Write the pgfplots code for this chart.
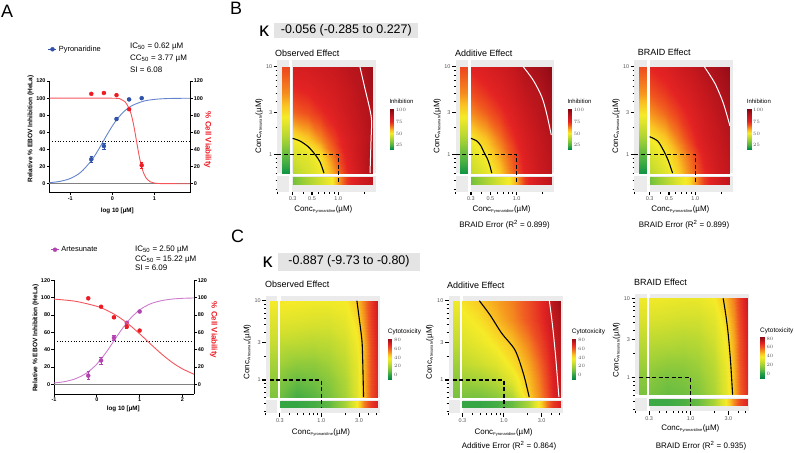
\documentclass[border=0pt]{standalone}
\usepackage{pgfplots}
\pgfplotsset{compat=1.18}
\usepackage{fontspec}
\setmainfont{Liberation Sans}

\definecolor{pblue}{RGB}{48,82,168}
\definecolor{pbluel}{RGB}{100,132,205}
\definecolor{cred}{RGB}{237,28,36}
\definecolor{credl}{RGB}{245,85,90}
\definecolor{amag}{RGB}{178,68,178}
\definecolor{amagl}{RGB}{205,125,205}
\definecolor{bggray}{RGB}{235,235,235}
\definecolor{kboxgray}{RGB}{228,228,228}
\definecolor{tickgray}{RGB}{85,85,85}

\pgfplotsset{
  colormap={braidB}{rgb255(0pt)=(0,140,70) rgb255(9pt)=(80,180,65) rgb255(19pt)=(150,205,55) rgb255(29pt)=(215,225,45) rgb255(34pt)=(245,235,40) rgb255(40pt)=(250,195,35) rgb255(46pt)=(245,140,30) rgb255(52pt)=(240,85,30) rgb255(59pt)=(228,35,35) rgb255(69pt)=(200,25,30) rgb255(79pt)=(160,15,25) rgb255(88pt)=(110,5,15)},
  colormap={braidC}{rgb255(0pt)=(0,130,65) rgb255(11pt)=(40,160,70) rgb255(21pt)=(110,190,65) rgb255(31pt)=(165,210,55) rgb255(41pt)=(215,225,45) rgb255(49pt)=(245,235,40) rgb255(56pt)=(250,200,35) rgb255(63pt)=(245,150,30) rgb255(71pt)=(240,90,35) rgb255(81pt)=(225,35,35) rgb255(95pt)=(140,10,20)},
  heatbase/.style={
    scale only axis, view={0}{90}, hide z axis,
    axis line style={draw=none},
    tick align=outside, xtick pos=left, ytick pos=left,
    major tick length=3.5bp, minor tick length=1.8bp,
    every major tick/.append style={black, line width=1.1bp},
    every minor tick/.append style={black, line width=0.9bp},
    tick label style={font=\fontsize{5.5}{6}\selectfont, text=tickgray, inner sep=1.5bp},
    ytick={0,0.47712,1}, yticklabels={1,3,10},
    minor ytick={-0.39794,-0.30103,-0.22185,-0.15490,-0.09691,-0.04576,0.30103,0.60206,0.69897,0.77815,0.84510,0.90309,0.95424},
    clip=false, anchor=south west,
  },
  heatB/.style={heatbase, colormap name=braidB, point meta min=16, point meta max=104,
    width=98.6bp, height=131.9bp, xmin=-0.69897, xmax=0.43136, ymin=-0.42713, ymax=1.07918,
    xtick={-0.52288,-0.30103,0}, xticklabels={0.3,0.5,1.0},
    minor xtick={-0.69897,-0.39794,-0.22185,-0.15490,-0.09691,-0.04576,0.30103}},
  heatC/.style={heatbase, colormap name=braidC, point meta min=-11, point meta max=84,
    width=114bp, height=117.4bp, xmin=-0.69897, xmax=0.74036, ymin=-0.42022, ymax=1.06070,
    xtick={-0.52288,0,0.47712}, xticklabels={0.3,1.0,3.0},
    minor xtick={-0.69897,-0.39794,-0.30103,-0.22185,-0.15490,-0.09691,-0.04576,0.30103,0.60206,0.69897}},
  cbarbase/.style={scale only axis, view={0}{90}, anchor=north west, width=4.8bp,
    hide x axis, hide z axis, axis line style={draw=none}, major tick length=0pt,
    yticklabel pos=right, xmin=0, xmax=1,
    yticklabel style={font=\fontsize{5.5}{6}\selectfont, text=tickgray, inner sep=1.5bp}},
  cbarB/.style={cbarbase, height=41bp, ymin=16, ymax=104, ytick={25,50,75,100},
    colormap name=braidB, point meta min=16, point meta max=104},
  cbarC/.style={cbarbase, height=41.7bp, ymin=-11, ymax=84, ytick={0,20,40,60,80},
    colormap name=braidC, point meta min=-11, point meta max=84},
  apanel/.style={scale only axis, anchor=south west,
    axis line style={line width=0.8bp},
    tick align=outside, major tick length=2.5bp,
    every tick/.style={black, line width=0.8bp},
    tick label style={font=\bfseries\fontsize{5.5}{6}\selectfont, inner sep=1.2bp},
    /pgf/number format/assume math mode=true,
    ytick={0,20,40,60,80,100,120}, clip=false},
  contk/.style={black, line width=1.1bp, smooth, no marks},
  contw/.style={white, line width=1bp, smooth, no marks},
  dashk/.style={black, line width=1.4bp, dash pattern=on 4bp off 2.5bp, no marks},
}

\begin{document}
\begin{tikzpicture}
\useasboundingbox (0,0) rectangle (795bp,-453bp);

% ================= Panel labels =================
\node[anchor=west, inner sep=0, font=\fontsize{18}{18}\selectfont] at (1bp,-11.7bp) {A};
\node[anchor=west, inner sep=0, font=\fontsize{18}{18}\selectfont] at (230bp,-8.3bp) {B};
\node[anchor=west, inner sep=0, font=\fontsize{18}{18}\selectfont] at (231bp,-236.7bp) {C};

% ================= Panel A top =================
\begin{axis}[apanel, at={(49.3bp,-192.7bp)}, width=140.7bp, height=111.7bp,
  xmin=-1.5, xmax=1.85, ymin=-10.5, ymax=120,
  axis x line*=bottom, axis y line*=left, xtick={-1,0,1},
  legend style={at={(axis description cs:-0.01,1.284)}, anchor=west, draw=none, fill=none, inner sep=0pt, font=\fontsize{7.5}{9}\selectfont},
  legend cell align=left]
\addplot[gray, line width=0.5bp, forget plot] coordinates {(-1.5,0) (1.85,0)};
\addplot[black, dotted, line width=0.8bp, forget plot] coordinates {(-1.5,50) (1.85,50)};
\addplot[pbluel, line width=0.9bp, smooth, forget plot] coordinates {(-1.5,1.2) (-1.25,2.7) (-1,6.1) (-0.75,13.4) (-0.5,26.9) (-0.375,36.1) (-0.25,46.5) (-0.125,57.3) (0,67.4) (0.125,76.1) (0.25,83) (0.375,88.3) (0.5,92) (0.75,96.5) (1,98.5) (1.25,99.4) (1.5,99.7) (1.85,99.9)};
\addplot[only marks, mark=*, mark size=2bp, pblue,
  legend image code/.code={\draw[pblue, line width=0.8bp] (0bp,0bp) -- (8bp,0bp); \fill[pblue] (4bp,0bp) circle (2bp);},
  error bars/.cd, y dir=both, y explicit, error bar style={line width=0.6bp}, error mark options={rotate=90, mark size=1.6bp, line width=0.6bp}]
  coordinates {(-0.5,28.5) +- (0,4) (-0.2,44) +- (0,3.5) (0.1,75.6) +- (0,2) (0.4,98.5) +- (0,1) (0.7,100) +- (0,1)};
\addlegendentry{Pyronaridine}
\end{axis}
\begin{axis}[apanel, at={(49.3bp,-192.7bp)}, width=140.7bp, height=111.7bp,
  xmin=-1.5, xmax=1.85, ymin=-10.5, ymax=120,
  axis x line=none, axis y line*=right]
\addplot[credl, line width=0.9bp, smooth] coordinates {(-1.5,100) (0,99.9) (0.2,98.7) (0.3,96) (0.4,88) (0.45,81) (0.5,70.6) (0.55,57.4) (0.6,43.1) (0.65,29.9) (0.7,19.3) (0.75,11.9) (0.8,7) (0.9,2.3) (1,0.75) (1.2,0.1) (1.85,0)};
\addplot[only marks, mark=*, mark size=2bp, cred,
  error bars/.cd, y dir=both, y explicit, error bar style={line width=0.6bp}, error mark options={rotate=90, mark size=1.6bp, line width=0.6bp}]
  coordinates {(-0.5,105) +- (0,0.5) (-0.2,106) +- (0,0.5) (0.1,103.5) +- (0,0.5) (0.4,87) +- (0,1) (0.7,21.5) +- (0,3)};
\end{axis}
\node[anchor=base west, inner sep=0, font=\fontsize{8}{9}\selectfont] at (130bp,-48.3bp) {IC\textsubscript{50} = 0.62 µM};
\node[anchor=base west, inner sep=0, font=\fontsize{8}{9}\selectfont] at (130bp,-60.3bp) {CC\textsubscript{50} = 3.77 µM};
\node[anchor=base west, inner sep=0, font=\fontsize{8}{9}\selectfont] at (130bp,-72bp) {SI = 6.08};
\node[rotate=90, anchor=base, inner sep=0, font=\bfseries\fontsize{6.6}{7}\selectfont] at (32.3bp,-129bp) {Relative \% EBOV Inhibition (HeLa)};
\node[rotate=-90, anchor=base, inner sep=0, text=cred, font=\bfseries\fontsize{8}{9}\selectfont] at (205.7bp,-140bp) {\% Cell Viability};
\node[anchor=base, inner sep=0, font=\bfseries\fontsize{6.3}{7}\selectfont] at (117.3bp,-212bp) {log 10 [µM]};

% ================= Panel A bottom =================
\begin{axis}[apanel, at={(54bp,-394bp)}, width=140bp, height=113.7bp,
  xmin=-1, xmax=2.27, ymin=-11.2, ymax=120,
  axis x line*=bottom, axis y line*=left, xtick={-1,0,1,2},
  legend style={at={(axis description cs:-0.026,1.269)}, anchor=west, draw=none, fill=none, inner sep=0pt, font=\fontsize{7.5}{9}\selectfont},
  legend cell align=left]
\addplot[gray, line width=0.5bp, forget plot] coordinates {(-1,0) (2.27,0)};
\addplot[black, dotted, line width=0.8bp, forget plot] coordinates {(-1,50) (2.27,50)};
\addplot[amagl, line width=0.9bp, smooth, forget plot] coordinates {(-1,1.5) (-0.75,3.1) (-0.5,6.4) (-0.25,12.6) (0,23.3) (0.25,39.1) (0.5,57.6) (0.75,74.1) (1,85.8) (1.25,92.8) (1.5,96.4) (1.75,98.3) (2,99.2) (2.27,99.6)};
\addplot[only marks, mark=*, mark size=2bp, amag,
  legend image code/.code={\draw[amag, line width=0.8bp] (0bp,0bp) -- (8bp,0bp); \fill[amag] (4bp,0bp) circle (2bp);},
  error bars/.cd, y dir=both, y explicit, error bar style={line width=0.6bp}, error mark options={rotate=90, mark size=1.6bp, line width=0.6bp}]
  coordinates {(-0.2,10) +- (0,4.5) (0.1,27.5) +- (0,4) (0.4,53.5) +- (0,3) (0.7,71) +- (0,2) (1.0,84) +- (0,1)};
\addlegendentry{Artesunate}
\end{axis}
\begin{axis}[apanel, at={(54bp,-394bp)}, width=140bp, height=113.7bp,
  xmin=-1, xmax=2.27, ymin=-11.2, ymax=120,
  axis x line=none, axis y line*=right]
\addplot[credl, line width=0.9bp, smooth] coordinates {(-1,98.3) (-0.5,95.8) (0,90) (0.25,85) (0.5,78.1) (0.75,69) (1,58.3) (1.25,46.7) (1.5,35.5) (1.75,25.6) (2,17.8) (2.27,11.6)};
\addplot[only marks, mark=*, mark size=2bp, cred,
  error bars/.cd, y dir=both, y explicit, error bar style={line width=0.6bp}, error mark options={rotate=90, mark size=1.6bp, line width=0.6bp}]
  coordinates {(-0.2,99.2) +- (0,0.5) (0.1,89.5) +- (0,0.5) (0.4,77.3) +- (0,1) (0.7,66.5) +- (0,1.5) (1.0,62) +- (0,0.5)};
\end{axis}
\node[anchor=base west, inner sep=0, font=\fontsize{8}{9}\selectfont] at (135bp,-251bp) {IC\textsubscript{50} = 2.50 µM};
\node[anchor=base west, inner sep=0, font=\fontsize{8}{9}\selectfont] at (135bp,-261bp) {CC\textsubscript{50} = 15.22 µM};
\node[anchor=base west, inner sep=0, font=\fontsize{8}{9}\selectfont] at (135bp,-270.7bp) {SI = 6.09};
\node[rotate=90, anchor=base, inner sep=0, font=\bfseries\fontsize{6.6}{7}\selectfont] at (37.3bp,-338.3bp) {Relative \% EBOV Inhibition (HeLa)};
\node[rotate=-90, anchor=base, inner sep=0, text=cred, font=\bfseries\fontsize{8}{9}\selectfont] at (211.7bp,-330bp) {\% Cell Viability};
\node[anchor=base, inner sep=0, font=\bfseries\fontsize{6.3}{7}\selectfont] at (123.3bp,-410bp) {log 10 [µM]};

% ================= Panel B header =================
\node[inner sep=0, font=\fontsize{20}{20}\selectfont] at (264bp,-31bp) {κ};
\fill[kboxgray] (274.3bp,-22.7bp) rectangle (418.3bp,-38.3bp);
\node[inner sep=0, font=\fontsize{12.5}{14}\selectfont] at (346.3bp,-30.5bp) {-0.056 (-0.285 to 0.227)};

% ---- B observed ----
\node[anchor=base west, inner sep=0, font=\fontsize{9}{10}\selectfont] at (275bp,-56.7bp) {Observed Effect};
\fill[bggray] (277.3bp,-59.8bp) rectangle (375.9bp,-191.7bp);
\begin{axis}[heatB, at={(277.3bp,-191.7bp)}]
\draw[white, line width=3bp] (axis cs:-0.542,-0.42713,0) -- (axis cs:-0.542,1.07918,0);
\draw[white, line width=3bp] (axis cs:-0.69897,-0.231,0) -- (axis cs:0.43136,-0.231,0);
\addplot3[surf, shader=interp, mesh/cols=7] table[row sep=\\] {
x y z\\
-0.523 -0.215 40\\ -0.347 -0.215 44.5\\ -0.204 -0.215 48.5\\ -0.046 -0.215 60\\ 0.097 -0.215 74\\ 0.255 -0.215 85\\ 0.398 -0.215 93\\
-0.523 0 45\\ -0.347 0 47.5\\ -0.204 0 52\\ -0.046 0 66\\ 0.097 0 77\\ 0.255 0 86\\ 0.398 0 92\\
-0.523 0.176 50\\ -0.347 0.176 55\\ -0.204 0.176 62\\ -0.046 0.176 71\\ 0.097 0.176 79\\ 0.255 0.176 86\\ 0.398 0.176 91\\
-0.523 0.477 66\\ -0.347 0.477 69\\ -0.204 0.477 73\\ -0.046 0.477 78\\ 0.097 0.477 83\\ 0.255 0.477 88\\ 0.398 0.477 91\\
-0.523 0.699 73\\ -0.347 0.699 75\\ -0.204 0.699 78\\ -0.046 0.699 81\\ 0.097 0.699 85\\ 0.255 0.699 89\\ 0.398 0.699 94\\
-0.523 1 80\\ -0.347 1 81\\ -0.204 1 83\\ -0.046 1 85\\ 0.097 1 88\\ 0.255 1 90\\ 0.398 1 96\\
};
\addplot3[surf, shader=interp, mesh/cols=2] table[row sep=\\] {
x y z\\
-0.648 -0.215 18\\ -0.561 -0.215 18\\ -0.648 0 28\\ -0.561 0 28\\ -0.648 0.204 40\\ -0.561 0.204 40\\
-0.648 0.477 52\\ -0.561 0.477 52\\ -0.648 0.699 62\\ -0.561 0.699 62\\ -0.648 1 70\\ -0.561 1 70\\
};
\addplot3[surf, shader=interp, mesh/cols=8] table[row sep=\\] {
x y z\\
-0.523 -0.342 30\\ -0.347 -0.342 38\\ -0.204 -0.342 44\\ -0.076 -0.342 50\\ 0 -0.342 60\\ 0.097 -0.342 72\\ 0.255 -0.342 82\\ 0.398 -0.342 88\\
-0.523 -0.256 30\\ -0.347 -0.256 38\\ -0.204 -0.256 44\\ -0.076 -0.256 50\\ 0 -0.256 60\\ 0.097 -0.256 72\\ 0.255 -0.256 82\\ 0.398 -0.256 88\\
};
\addplot3[contk] coordinates {(-0.523,0.182,120) (-0.439,0.152,120) (-0.344,0.086,120) (-0.268,0,120) (-0.210,-0.086,120) (-0.164,-0.215,120)};
\addplot3[contw] coordinates {(0.248,1,120) (0.305,0.754,120) (0.364,0.505,120) (0.382,0.373,120) (0.375,0.143,120) (0.364,-0.215,120)};
\addplot3[dashk] coordinates {(-0.69897,0,120) (0,0,120) (0,-0.342,120)};
\end{axis}
\begin{axis}[cbarB, at={(389.3bp,-108.3bp)}]
\addplot3[surf, shader=interp, mesh/cols=2] coordinates {(0,16,16) (1,16,16) (0,104,104) (1,104,104)};
\end{axis}
\node[anchor=base west, inner sep=0, font=\fontsize{6}{7}\selectfont] at (389.3bp,-103.5bp) {Inhibition};
\node[rotate=90, anchor=base, inner sep=0, font=\fontsize{8}{9}\selectfont] at (261bp,-126bp) {Conc\textsubscript{\fontsize{4}{4}\selectfont Artesunate}(µM)};
\node[anchor=base, inner sep=0, font=\fontsize{8}{9}\selectfont] at (323.3bp,-211.7bp) {Conc\textsubscript{\fontsize{4}{4}\selectfont Pyronaridine}(µM)};

% ---- B additive ----
\node[anchor=base west, inner sep=0, font=\fontsize{9}{10}\selectfont] at (455bp,-56.5bp) {Additive Effect};
\fill[bggray] (455.6bp,-59.8bp) rectangle (554.2bp,-191.7bp);
\begin{axis}[heatB, at={(455.6bp,-191.7bp)}]
\draw[white, line width=3bp] (axis cs:-0.542,-0.42713,0) -- (axis cs:-0.542,1.07918,0);
\draw[white, line width=3bp] (axis cs:-0.69897,-0.231,0) -- (axis cs:0.43136,-0.231,0);
\addplot3[surf, shader=interp, mesh/cols=7] table[row sep=\\] {
x y z\\
-0.523 -0.215 42\\ -0.347 -0.215 47\\ -0.204 -0.215 54\\ -0.046 -0.215 66\\ 0.097 -0.215 76\\ 0.255 -0.215 84\\ 0.398 -0.215 88\\
-0.523 0 46\\ -0.347 0 51\\ -0.204 0 59\\ -0.046 0 69\\ 0.097 0 78\\ 0.255 0 85\\ 0.398 0 89\\
-0.523 0.176 50\\ -0.347 0.176 56\\ -0.204 0.176 64\\ -0.046 0.176 73\\ 0.097 0.176 80\\ 0.255 0.176 86\\ 0.398 0.176 90\\
-0.523 0.477 62\\ -0.347 0.477 67\\ -0.204 0.477 72\\ -0.046 0.477 78\\ 0.097 0.477 84\\ 0.255 0.477 88.5\\ 0.398 0.477 92.5\\
-0.523 0.699 69\\ -0.347 0.699 73\\ -0.204 0.699 77\\ -0.046 0.699 82\\ 0.097 0.699 87\\ 0.255 0.699 89.8\\ 0.398 0.699 95\\
-0.523 1 76\\ -0.347 1 79\\ -0.204 1 82\\ -0.046 1 86\\ 0.097 1 90.5\\ 0.255 1 94\\ 0.398 1 98\\
};
\addplot3[surf, shader=interp, mesh/cols=2] table[row sep=\\] {
x y z\\
-0.648 -0.215 18\\ -0.561 -0.215 18\\ -0.648 0 28\\ -0.561 0 28\\ -0.648 0.204 40\\ -0.561 0.204 40\\
-0.648 0.477 52\\ -0.561 0.477 52\\ -0.648 0.699 62\\ -0.561 0.699 62\\ -0.648 1 70\\ -0.561 1 70\\
};
\addplot3[surf, shader=interp, mesh/cols=8] table[row sep=\\] {
x y z\\
-0.523 -0.342 30\\ -0.347 -0.342 38\\ -0.204 -0.342 45\\ -0.076 -0.342 51\\ 0 -0.342 60\\ 0.097 -0.342 72\\ 0.255 -0.342 82\\ 0.398 -0.342 88\\
-0.523 -0.256 30\\ -0.347 -0.256 38\\ -0.204 -0.256 45\\ -0.076 -0.256 51\\ 0 -0.256 60\\ 0.097 -0.256 72\\ 0.255 -0.256 82\\ 0.398 -0.256 88\\
};
\addplot3[contk] coordinates {(-0.523,0.182,120) (-0.456,0.152,120) (-0.409,0.097,120) (-0.377,0.029,120) (-0.337,-0.046,120) (-0.310,-0.119,120) (-0.284,-0.215,120)};
\addplot3[contw] coordinates {(0.076,1,120) (0.190,0.848,120) (0.288,0.658,120) (0.344,0.468,120) (0.398,0.220,120)};
\addplot3[dashk] coordinates {(-0.69897,0,120) (0,0,120) (0,-0.342,120)};
\end{axis}
\begin{axis}[cbarB, at={(567.3bp,-108.3bp)}]
\addplot3[surf, shader=interp, mesh/cols=2] coordinates {(0,16,16) (1,16,16) (0,104,104) (1,104,104)};
\end{axis}
\node[anchor=base west, inner sep=0, font=\fontsize{6}{7}\selectfont] at (567.3bp,-103.5bp) {Inhibition};
\node[rotate=90, anchor=base, inner sep=0, font=\fontsize{8}{9}\selectfont] at (439.3bp,-126bp) {Conc\textsubscript{\fontsize{4}{4}\selectfont Artesunate}(µM)};
\node[anchor=base, inner sep=0, font=\fontsize{8}{9}\selectfont] at (501.6bp,-211.7bp) {Conc\textsubscript{\fontsize{4}{4}\selectfont Pyronaridine}(µM)};
\node[anchor=base, inner sep=0, font=\fontsize{8}{9}\selectfont] at (504.5bp,-227bp) {BRAID Error (R\textsuperscript{2} = 0.899)};

% ---- B BRAID ----
\node[anchor=base west, inner sep=0, font=\fontsize{9}{10}\selectfont] at (637.7bp,-55.5bp) {BRAID Effect};
\fill[bggray] (634.3bp,-59.8bp) rectangle (732.9bp,-191.7bp);
\begin{axis}[heatB, at={(634.3bp,-191.7bp)}]
\draw[white, line width=3bp] (axis cs:-0.542,-0.42713,0) -- (axis cs:-0.542,1.07918,0);
\draw[white, line width=3bp] (axis cs:-0.69897,-0.231,0) -- (axis cs:0.43136,-0.231,0);
\addplot3[surf, shader=interp, mesh/cols=7] table[row sep=\\] {
x y z\\
-0.523 -0.215 41\\ -0.347 -0.215 46\\ -0.204 -0.215 53\\ -0.046 -0.215 64\\ 0.097 -0.215 74\\ 0.255 -0.215 83\\ 0.398 -0.215 87\\
-0.523 0 45\\ -0.347 0 50\\ -0.204 0 57\\ -0.046 0 67\\ 0.097 0 77\\ 0.255 0 84\\ 0.398 0 88.5\\
-0.523 0.176 49.5\\ -0.347 0.176 55\\ -0.204 0.176 63\\ -0.046 0.176 72\\ 0.097 0.176 80\\ 0.255 0.176 85.5\\ 0.398 0.176 89.5\\
-0.523 0.477 61\\ -0.347 0.477 66\\ -0.204 0.477 71\\ -0.046 0.477 77\\ 0.097 0.477 83\\ 0.255 0.477 88\\ 0.398 0.477 91.5\\
-0.523 0.699 68\\ -0.347 0.699 72\\ -0.204 0.699 76\\ -0.046 0.699 81\\ 0.097 0.699 86\\ 0.255 0.699 90\\ 0.398 0.699 94\\
-0.523 1 75\\ -0.347 1 78\\ -0.204 1 82\\ -0.046 1 86\\ 0.097 1 90\\ 0.255 1 93.5\\ 0.398 1 97.5\\
};
\addplot3[surf, shader=interp, mesh/cols=2] table[row sep=\\] {
x y z\\
-0.648 -0.215 18\\ -0.561 -0.215 18\\ -0.648 0 27\\ -0.561 0 27\\ -0.648 0.204 39\\ -0.561 0.204 39\\
-0.648 0.477 51\\ -0.561 0.477 51\\ -0.648 0.699 61\\ -0.561 0.699 61\\ -0.648 1 69\\ -0.561 1 69\\
};
\addplot3[surf, shader=interp, mesh/cols=8] table[row sep=\\] {
x y z\\
-0.523 -0.342 30\\ -0.347 -0.342 39\\ -0.204 -0.342 46\\ -0.076 -0.342 52\\ 0 -0.342 60\\ 0.097 -0.342 71\\ 0.255 -0.342 81\\ 0.398 -0.342 88\\
-0.523 -0.256 30\\ -0.347 -0.256 39\\ -0.204 -0.256 46\\ -0.076 -0.256 52\\ 0 -0.256 60\\ 0.097 -0.256 71\\ 0.255 -0.256 81\\ 0.398 -0.256 88\\
};
\addplot3[contk] coordinates {(-0.523,0.201,120) (-0.432,0.152,120) (-0.367,0.049,120) (-0.310,-0.071,120) (-0.260,-0.215,120)};
\addplot3[contw] coordinates {(0.104,1,120) (0.225,0.810,120) (0.322,0.582,120) (0.398,0.322,120)};
\addplot3[dashk] coordinates {(-0.69897,0,120) (0,0,120) (0,-0.342,120)};
\end{axis}
\begin{axis}[cbarB, at={(746.7bp,-108.3bp)}]
\addplot3[surf, shader=interp, mesh/cols=2] coordinates {(0,16,16) (1,16,16) (0,104,104) (1,104,104)};
\end{axis}
\node[anchor=base west, inner sep=0, font=\fontsize{6}{7}\selectfont] at (746.7bp,-103.5bp) {Inhibition};
\node[rotate=90, anchor=base, inner sep=0, font=\fontsize{8}{9}\selectfont] at (618bp,-126bp) {Conc\textsubscript{\fontsize{4}{4}\selectfont Artesunate}(µM)};
\node[anchor=base, inner sep=0, font=\fontsize{8}{9}\selectfont] at (680.3bp,-211.7bp) {Conc\textsubscript{\fontsize{4}{4}\selectfont Pyronaridine}(µM)};
\node[anchor=base, inner sep=0, font=\fontsize{8}{9}\selectfont] at (684bp,-227bp) {BRAID Error (R\textsuperscript{2} = 0.899)};

% ================= Panel C header =================
\node[inner sep=0, font=\fontsize{20}{20}\selectfont] at (267.5bp,-262.5bp) {κ};
\fill[kboxgray] (278.3bp,-252.7bp) rectangle (420bp,-270.7bp);
\node[inner sep=0, font=\fontsize{12.5}{14}\selectfont] at (349bp,-261.7bp) {-0.887 (-9.73 to -0.80)};

% ---- C observed ----
\node[anchor=base west, inner sep=0, font=\fontsize{9}{10}\selectfont] at (265bp,-287.7bp) {Observed Effect};
\fill[bggray] (265.9bp,-295.9bp) rectangle (379.9bp,-413.3bp);
\begin{axis}[heatC, at={(265.9bp,-413.3bp)}]
\draw[white, line width=3.5bp] (axis cs:-0.534,-0.42022,0) -- (axis cs:-0.534,1.06070,0);
\draw[white, line width=3.5bp] (axis cs:-0.69897,-0.234,0) -- (axis cs:0.74036,-0.234,0);
\addplot3[surf, shader=interp, mesh/cols=9] table[row sep=\\] {
x y z\\
-0.523 -0.215 10\\ -0.301 -0.215 4\\ -0.097 -0.215 7\\ 0.097 -0.215 12\\ 0.301 -0.215 20\\ 0.447 -0.215 32\\ 0.544 -0.215 46.5\\ 0.623 -0.215 62\\ 0.716 -0.215 70\\
-0.523 0 14\\ -0.301 0 9\\ -0.097 0 11\\ 0.097 0 15\\ 0.301 0 22\\ 0.447 0 33\\ 0.544 0 47.3\\ 0.623 0 62\\ 0.716 0 70\\
-0.523 0.204 19\\ -0.301 0.204 16\\ -0.097 0.204 16\\ 0.097 0.204 19\\ 0.301 0.204 25\\ 0.447 0.204 34\\ 0.544 0.204 47.5\\ 0.623 0.204 62\\ 0.716 0.204 71\\
-0.523 0.477 26\\ -0.301 0.477 25\\ -0.097 0.477 24\\ 0.097 0.477 25\\ 0.301 0.477 29\\ 0.447 0.477 37\\ 0.544 0.477 48\\ 0.623 0.477 63\\ 0.716 0.477 72\\
-0.523 0.740 33\\ -0.301 0.740 32\\ -0.097 0.740 31\\ 0.097 0.740 31\\ 0.301 0.740 34\\ 0.447 0.740 41\\ 0.544 0.740 52\\ 0.623 0.740 65\\ 0.716 0.740 73\\
-0.523 1 39\\ -0.301 1 38\\ -0.097 1 37\\ 0.097 1 37\\ 0.301 1 38\\ 0.447 1 45\\ 0.544 1 55\\ 0.623 1 66\\ 0.716 1 75\\
};
\addplot3[surf, shader=interp, mesh/cols=2] table[row sep=\\] {
x y z\\
-0.648 -0.215 13\\ -0.556 -0.215 13\\ -0.648 0 16\\ -0.556 0 16\\ -0.648 0.204 20\\ -0.556 0.204 20\\
-0.648 0.477 27\\ -0.556 0.477 27\\ -0.648 0.740 32\\ -0.556 0.740 32\\ -0.648 1 38\\ -0.556 1 38\\
};
\addplot3[surf, shader=interp, mesh/cols=9] table[row sep=\\] {
x y z\\
-0.523 -0.352 2\\ -0.301 -0.352 2\\ -0.097 -0.352 4\\ 0.097 -0.352 8\\ 0.301 -0.352 20\\ 0.447 -0.352 38\\ 0.544 -0.352 55\\ 0.623 -0.352 66\\ 0.716 -0.352 72\\
-0.523 -0.264 2\\ -0.301 -0.264 2\\ -0.097 -0.264 4\\ 0.097 -0.264 8\\ 0.301 -0.264 20\\ 0.447 -0.264 38\\ 0.544 -0.264 55\\ 0.623 -0.264 66\\ 0.716 -0.264 72\\
};
\addplot3[contk] coordinates {(0.450,1,120) (0.484,0.740,120) (0.513,0.505,120) (0.522,0.301,120) (0.534,-0.215,120)};
\addplot3[dashk] coordinates {(-0.648,0,120) (0,0,120) (0,-0.352,120)};
\end{axis}
\begin{axis}[cbarC, at={(387.7bp,-338.3bp)}]
\addplot3[surf, shader=interp, mesh/cols=2] coordinates {(0,-11,-11) (1,-11,-11) (0,84,84) (1,84,84)};
\end{axis}
\node[anchor=base west, inner sep=0, font=\fontsize{6.5}{7}\selectfont] at (387.7bp,-333.5bp) {Cytotoxicity};
\node[rotate=90, anchor=base, inner sep=0, font=\fontsize{8}{9}\selectfont] at (249.3bp,-352bp) {Conc\textsubscript{\fontsize{4}{4}\selectfont Artesunate}(µM)};
\node[anchor=base, inner sep=0, font=\fontsize{8}{9}\selectfont] at (321bp,-434bp) {Conc\textsubscript{\fontsize{4}{4}\selectfont Pyronaridine}(µM)};

% ---- C additive ----
\node[anchor=base west, inner sep=0, font=\fontsize{9}{10}\selectfont] at (447bp,-288bp) {Additive Effect};
\fill[bggray] (448.5bp,-295.9bp) rectangle (562.5bp,-413.3bp);
\begin{axis}[heatC, at={(448.5bp,-413.3bp)}]
\draw[white, line width=3.5bp] (axis cs:-0.534,-0.42022,0) -- (axis cs:-0.534,1.06070,0);
\draw[white, line width=3.5bp] (axis cs:-0.69897,-0.234,0) -- (axis cs:0.74036,-0.234,0);
\addplot3[surf, shader=interp, mesh/cols=9] table[row sep=\\] {
x y z\\
-0.523 -0.215 12\\ -0.301 -0.215 12\\ -0.097 -0.215 15\\ 0.097 -0.215 22\\ 0.301 -0.215 43\\ 0.447 -0.215 53\\ 0.544 -0.215 62\\ 0.623 -0.215 70\\ 0.716 -0.215 75\\
-0.523 0 18\\ -0.301 0 20\\ -0.097 0 24\\ 0.097 0 33\\ 0.301 0 46\\ 0.447 0 55\\ 0.544 0 64\\ 0.623 0 71\\ 0.716 0 75.5\\
-0.523 0.204 25\\ -0.301 0.204 28\\ -0.097 0.204 32\\ 0.097 0.204 40\\ 0.301 0.204 49\\ 0.447 0.204 58\\ 0.544 0.204 66\\ 0.623 0.204 72\\ 0.716 0.204 76\\
-0.523 0.477 31\\ -0.301 0.477 35\\ -0.097 0.477 40\\ 0.097 0.477 46\\ 0.301 0.477 55\\ 0.447 0.477 63\\ 0.544 0.477 69\\ 0.623 0.477 73.5\\ 0.716 0.477 77\\
-0.523 0.740 36\\ -0.301 0.740 40\\ -0.097 0.740 46.5\\ 0.097 0.740 53\\ 0.301 0.740 61\\ 0.447 0.740 67\\ 0.544 0.740 72\\ 0.623 0.740 75\\ 0.716 0.740 78.5\\
-0.523 1 40\\ -0.301 1 45\\ -0.097 1 50\\ 0.097 1 55\\ 0.301 1 62\\ 0.447 1 68\\ 0.544 1 72\\ 0.623 1 77\\ 0.716 1 82\\
};
\addplot3[surf, shader=interp, mesh/cols=2] table[row sep=\\] {
x y z\\
-0.648 -0.215 12\\ -0.556 -0.215 12\\ -0.648 0 15\\ -0.556 0 15\\ -0.648 0.204 19\\ -0.556 0.204 19\\
-0.648 0.477 26\\ -0.556 0.477 26\\ -0.648 0.740 31\\ -0.556 0.740 31\\ -0.648 1 37\\ -0.556 1 37\\
};
\addplot3[surf, shader=interp, mesh/cols=9] table[row sep=\\] {
x y z\\
-0.523 -0.352 2\\ -0.301 -0.352 2\\ -0.097 -0.352 4\\ 0.097 -0.352 9\\ 0.301 -0.352 21\\ 0.447 -0.352 39\\ 0.544 -0.352 56\\ 0.623 -0.352 66\\ 0.716 -0.352 72\\
-0.523 -0.264 2\\ -0.301 -0.264 2\\ -0.097 -0.264 4\\ 0.097 -0.264 9\\ 0.301 -0.264 21\\ 0.447 -0.264 39\\ 0.544 -0.264 56\\ 0.623 -0.264 66\\ 0.716 -0.264 72\\
};
\addplot3[contk] coordinates {(-0.310,1,120) (-0.175,0.820,120) (-0.027,0.589,120) (0.140,0.378,120) (0.246,0.083,120) (0.320,-0.215,120)};
\addplot3[contw] coordinates {(0.574,1,120) (0.613,0.699,120) (0.653,0.301,120) (0.695,-0.215,120)};
\addplot3[dashk] coordinates {(-0.648,0,120) (0,0,120) (0,-0.352,120)};
\end{axis}
\begin{axis}[cbarC, at={(571.7bp,-338.3bp)}]
\addplot3[surf, shader=interp, mesh/cols=2] coordinates {(0,-11,-11) (1,-11,-11) (0,84,84) (1,84,84)};
\end{axis}
\node[anchor=base west, inner sep=0, font=\fontsize{6.5}{7}\selectfont] at (571.7bp,-333.5bp) {Cytotoxicity};
\node[rotate=90, anchor=base, inner sep=0, font=\fontsize{8}{9}\selectfont] at (431.9bp,-352bp) {Conc\textsubscript{\fontsize{4}{4}\selectfont Artesunate}(µM)};
\node[anchor=base, inner sep=0, font=\fontsize{8}{9}\selectfont] at (503.6bp,-434bp) {Conc\textsubscript{\fontsize{4}{4}\selectfont Pyronaridine}(µM)};
\node[anchor=base, inner sep=0, font=\fontsize{8}{9}\selectfont] at (509bp,-448.5bp) {Additive Error (R\textsuperscript{2} = 0.864)};

% ---- C BRAID ----
\node[anchor=base west, inner sep=0, font=\fontsize{9}{10}\selectfont] at (634bp,-285.7bp) {BRAID Effect};
\fill[bggray] (635.2bp,-293.6bp) rectangle (749.2bp,-411bp);
\begin{axis}[heatC, at={(635.2bp,-411bp)}]
\draw[white, line width=3.5bp] (axis cs:-0.534,-0.42022,0) -- (axis cs:-0.534,1.06070,0);
\draw[white, line width=3.5bp] (axis cs:-0.69897,-0.234,0) -- (axis cs:0.74036,-0.234,0);
\addplot3[surf, shader=interp, mesh/cols=9] table[row sep=\\] {
x y z\\
-0.523 -0.215 12\\ -0.301 -0.215 9\\ -0.097 -0.215 10\\ 0.097 -0.215 13\\ 0.301 -0.215 21\\ 0.447 -0.215 33\\ 0.544 -0.215 47\\ 0.623 -0.215 59\\ 0.716 -0.215 68\\
-0.523 0 15\\ -0.301 0 12\\ -0.097 0 13\\ 0.097 0 16\\ 0.301 0 23\\ 0.447 0 34\\ 0.544 0 47.5\\ 0.623 0 60\\ 0.716 0 69\\
-0.523 0.204 19\\ -0.301 0.204 17\\ -0.097 0.204 17\\ 0.097 0.204 19\\ 0.301 0.204 25\\ 0.447 0.204 36\\ 0.544 0.204 48.5\\ 0.623 0.204 61\\ 0.716 0.204 70\\
-0.523 0.477 25\\ -0.301 0.477 24\\ -0.097 0.477 23\\ 0.097 0.477 24\\ 0.301 0.477 29\\ 0.447 0.477 39\\ 0.544 0.477 50\\ 0.623 0.477 62\\ 0.716 0.477 71\\
-0.523 0.740 31\\ -0.301 0.740 30\\ -0.097 0.740 29\\ 0.097 0.740 29\\ 0.301 0.740 33\\ 0.447 0.740 42.5\\ 0.544 0.740 53\\ 0.623 0.740 64\\ 0.716 0.740 72\\
-0.523 1 37\\ -0.301 1 36\\ -0.097 1 35\\ 0.097 1 35\\ 0.301 1 38\\ 0.447 1 47\\ 0.544 1 56\\ 0.623 1 66\\ 0.716 1 74\\
};
\addplot3[surf, shader=interp, mesh/cols=2] table[row sep=\\] {
x y z\\
-0.648 -0.215 12\\ -0.556 -0.215 12\\ -0.648 0 15\\ -0.556 0 15\\ -0.648 0.204 19\\ -0.556 0.204 19\\
-0.648 0.477 25\\ -0.556 0.477 25\\ -0.648 0.740 31\\ -0.556 0.740 31\\ -0.648 1 37\\ -0.556 1 37\\
};
\addplot3[surf, shader=interp, mesh/cols=9] table[row sep=\\] {
x y z\\
-0.523 -0.352 3\\ -0.301 -0.352 3\\ -0.097 -0.352 5\\ 0.097 -0.352 9\\ 0.301 -0.352 21\\ 0.447 -0.352 38\\ 0.544 -0.352 54\\ 0.623 -0.352 64\\ 0.716 -0.352 70\\
-0.523 -0.264 3\\ -0.301 -0.264 3\\ -0.097 -0.264 5\\ 0.097 -0.264 9\\ 0.301 -0.264 21\\ 0.447 -0.264 38\\ 0.544 -0.264 54\\ 0.623 -0.264 64\\ 0.716 -0.264 70\\
};
\addplot3[contk] coordinates {(0.412,1,120) (0.447,0.778,120) (0.476,0.542,120) (0.505,0.204,120) (0.531,-0.215,120)};
\addplot3[dashk] coordinates {(-0.648,0,120) (0,0,120) (0,-0.352,120)};
\end{axis}
\begin{axis}[cbarC, at={(760bp,-336.7bp)}]
\addplot3[surf, shader=interp, mesh/cols=2] coordinates {(0,-11,-11) (1,-11,-11) (0,84,84) (1,84,84)};
\end{axis}
\node[anchor=base west, inner sep=0, font=\fontsize{6.5}{7}\selectfont] at (760bp,-332bp) {Cytotoxicity};
\node[rotate=90, anchor=base, inner sep=0, font=\fontsize{8}{9}\selectfont] at (618.6bp,-350bp) {Conc\textsubscript{\fontsize{4}{4}\selectfont Artesunate}(µM)};
\node[anchor=base, inner sep=0, font=\fontsize{8}{9}\selectfont] at (690.3bp,-430bp) {Conc\textsubscript{\fontsize{4}{4}\selectfont Pyronaridine}(µM)};
\node[anchor=base, inner sep=0, font=\fontsize{8}{9}\selectfont] at (701bp,-448.5bp) {BRAID Error (R\textsuperscript{2} = 0.935)};

\end{tikzpicture}
\end{document}
